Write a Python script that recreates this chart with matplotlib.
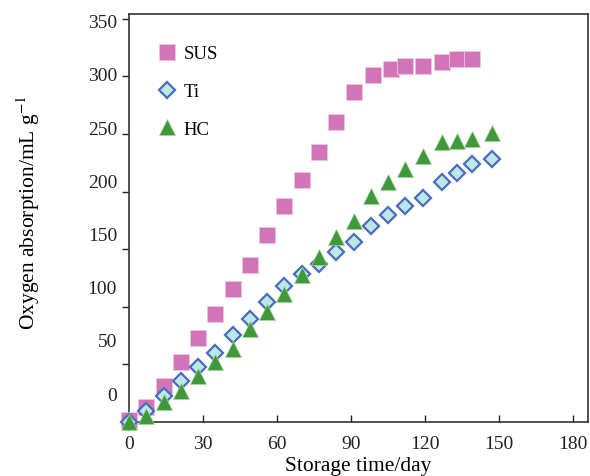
import matplotlib.pyplot as plt
import matplotlib.transforms as mtransforms

plt.rcParams['font.family'] = ['Liberation Serif', 'DejaVu Serif']
plt.rcParams['mathtext.fontset'] = 'stix'

# storage time (day) and oxygen absorption (mL/g)
sus_day = [0, 7, 14, 21, 28, 35, 42, 49, 56, 63, 70, 77, 84, 91, 99, 106, 112, 119, 127, 133, 139]
sus_val = [2, 13, 31, 52, 73, 94, 115, 136, 162, 187, 210, 234, 260, 286, 301, 306, 309, 309, 312, 315, 315]

ti_day = [0, 7, 14, 21, 28, 35, 42, 49, 56, 63, 70, 77, 84, 91, 98, 105, 112, 119, 127, 133, 139, 147]
ti_val = [0, 9.5, 22.6, 35.6, 47.7, 60, 75.5, 89.4, 104, 118, 128.5, 137, 147.6, 156, 170, 180, 187.5, 194.4,
          208, 216, 224, 228]

hc_day = [0, 7, 14, 21, 28, 35, 42, 49, 56, 63, 70, 77, 84, 91, 98, 105, 112, 119, 127, 133, 139, 147]
hc_val = [0, 5, 17, 27, 40, 52, 63, 81, 95.5, 111, 127.6, 143, 160.6, 174.5, 196, 208, 219.6, 231, 243, 244,
          245.7, 251]

y_ticks = [0, 50, 100, 150, 200, 250, 300, 350]
x_ticks = [0, 30, 60, 90, 120, 150, 180]
# the printed y labels sit a little off their ticks in the original
y_label_pos = [23, 69.5, 115.5, 162, 208, 254, 300.5, 347]

fig = plt.figure(figsize=(5.9, 4.77), dpi=100)
ax = fig.add_axes([0.2186, 0.1132, 0.778, 0.8553])

ax.plot(sus_day, sus_val, 's', ms=11, color='#d274b8', mec='#ecc6e0', mew=0.6,
        label='SUS', clip_on=False, zorder=3)
ax.plot(ti_day, ti_val, 'D', ms=7.8, mfc='#bde8e6', mec='#4a6cc0', mew=1.6,
        label='Ti', clip_on=False, zorder=4)
ax.plot(hc_day, hc_val, '^', ms=12, color='#3f983a', mec='#a6d49a', mew=0.5,
        label='HC', clip_on=False, zorder=5)

ax.set_xlim(0, 186)
ax.set_ylim(0, 354)
ax.set_xticks(x_ticks)
ax.set_yticks(y_ticks)
ax.set_yticklabels([])
ax.tick_params(axis='x', direction='in', length=5, width=1, labelsize=14, pad=9, colors='#222222')
ax.tick_params(axis='y', direction='out', length=5, width=1, colors='#222222')
for s in ax.spines.values():
    s.set_linewidth(1.2)
    s.set_color('#333333')

trans = mtransforms.blended_transform_factory(ax.transAxes, ax.transData)
for v, p in zip(y_ticks, y_label_pos):
    ax.text(-0.026, p, str(v), transform=trans, ha='right', va='center', fontsize=14, color='#222222')

ax.set_xlabel('Storage time/day', fontsize=15.5, labelpad=3)
fig.text(0.048, 0.555, 'Oxygen absorption/mL g$^{-1}$', rotation=90, ha='center', va='center', fontsize=15.5)

ax.legend(loc='upper left', bbox_to_anchor=(0.025, 0.96), frameon=False, fontsize=13.5,
          handletextpad=0.3, labelspacing=1.1, borderaxespad=0.4, handlelength=1.2)

fig.savefig('out.png', dpi=100)
